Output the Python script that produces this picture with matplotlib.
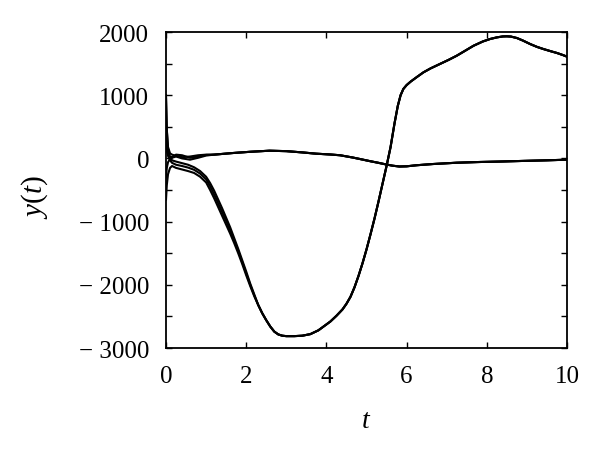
import numpy as np
import matplotlib.pyplot as plt
from matplotlib.ticker import FuncFormatter, MultipleLocator

plt.rcParams['font.family'] = 'Liberation Serif'
plt.rcParams['mathtext.fontset'] = 'custom'
plt.rcParams['mathtext.rm'] = 'Liberation Serif'
plt.rcParams['mathtext.it'] = 'Liberation Serif:italic'

# --- big swing bundle: early part differs, tail shared
t_big_early = [0, 0.02, 0.05, 0.1, 0.15, 0.25, 0.4, 0.55, 0.7, 0.85, 1.0, 1.1, 1.2, 1.3, 1.4,
               1.5, 1.6, 1.7, 1.8, 1.9, 2.0, 2.1, 2.2]
big_a_early = [1000, 450, 150, 10, -30, -50, -75, -100, -140, -200, -290, -390, -510, -650,
               -790, -940, -1090, -1260, -1430, -1610, -1790, -1980, -2150]
big_b_early = [400, 180, 40, -30, -70, -100, -120, -145, -180, -240, -330, -440, -570, -710,
               -850, -990, -1140, -1300, -1460, -1640, -1820, -2000, -2165]
big_c_early = [-650, -420, -250, -150, -120, -150, -175, -200, -230, -290, -380, -500, -630,
               -770, -910, -1050, -1190, -1340, -1500, -1670, -1850, -2020, -2180]

t_big_tail = [2.3, 2.4, 2.5, 2.6, 2.7, 2.8, 2.9, 3.0, 3.2, 3.4, 3.6, 3.8, 3.95, 4.1, 4.25,
              4.4, 4.5, 4.6, 4.7, 4.8, 4.9, 5.0, 5.1, 5.2, 5.3, 5.4, 5.5, 5.6, 5.7, 5.78,
              5.85, 5.92, 6.0, 6.1, 6.25, 6.42, 6.6, 6.83, 7.05, 7.25, 7.45, 7.67, 7.9,
              8.08, 8.25, 8.4, 8.5, 8.6, 8.75, 8.9, 9.08, 9.25, 9.41, 9.6, 9.75, 9.9, 10]
big_tail = [-2320, -2450, -2560, -2660, -2740, -2785, -2805, -2812, -2812, -2805, -2780,
            -2720, -2650, -2580, -2490, -2390, -2300, -2190, -2040, -1860, -1660, -1440,
            -1200, -950, -680, -400, -120, 180, 560, 830, 1000, 1100, 1160, 1215, 1285,
            1362, 1425, 1494, 1560, 1625, 1700, 1783, 1850, 1889, 1915, 1930, 1932, 1928,
            1905, 1865, 1810, 1765, 1731, 1695, 1668, 1635, 1610]

# --- small bundle
t_small_early = [0, 0.02, 0.05, 0.1, 0.15, 0.25, 0.4, 0.6, 0.8, 1.0]
small_d_early = [950, 450, 180, 80, 60, 40, 20, 30, 50, 60]
small_e_early = [-300, -150, -60, -10, 10, 30, 0, -20, 10, 45]
small_f_early = [200, 120, 60, 30, 20, 60, 50, 10, 30, 55]

t_small_tail = [1.2, 1.66, 2.1, 2.58, 3.0, 3.4, 3.74, 4.1, 4.34, 4.65, 4.84, 5.1, 5.3, 5.44,
                5.65, 5.82, 6.0, 6.25, 6.65, 7.25, 7.8, 8.3, 9.0, 9.5, 10]
small_tail = [60, 85, 105, 122, 115, 95, 75, 62, 50, 15, -10, -45, -70, -89,
              -115, -128, -125, -108, -89, -68, -57, -50, -38, -30, -20]

y_ticks = [-3000, -2000, -1000, 0, 1000, 2000]
x_ticks = [0, 2, 4, 6, 8, 10]

fig = plt.figure(figsize=(6, 4.56), dpi=100)
ax = fig.add_axes([0.2767, 0.2346, 0.6683, 0.693])

for early in (big_a_early, big_b_early, big_c_early):
    ax.plot(t_big_early + t_big_tail, early + big_tail, color='black', lw=1.5)
for early in (small_d_early, small_e_early, small_f_early):
    ax.plot(t_small_early + t_small_tail, early + small_tail, color='black', lw=1.5)

ax.set_xlim(0, 10)
ax.set_ylim(-3000, 2000)
ax.set_xticks(x_ticks)
ax.set_yticks(y_ticks)
ax.yaxis.set_minor_locator(MultipleLocator(500))
ax.yaxis.set_major_formatter(FuncFormatter(
    lambda v, p: ('\u2212 %d' % abs(v)) if v < 0 else '%d' % v))
ax.tick_params(which='both', direction='in', top=True, right=True, length=4,
               width=1, labelsize=18)
ax.tick_params(axis='x', pad=12)
ax.tick_params(axis='y', pad=12)
for s in ax.spines.values():
    s.set_linewidth(1.3)

ax.set_xlabel('$t$', fontsize=20)
ax.set_ylabel('$y(t)$', fontsize=21)
ax.xaxis.set_label_coords(0.5, -0.19)
ax.yaxis.set_label_coords(-0.29, 0.48)

fig.savefig('out.png', dpi=100)
